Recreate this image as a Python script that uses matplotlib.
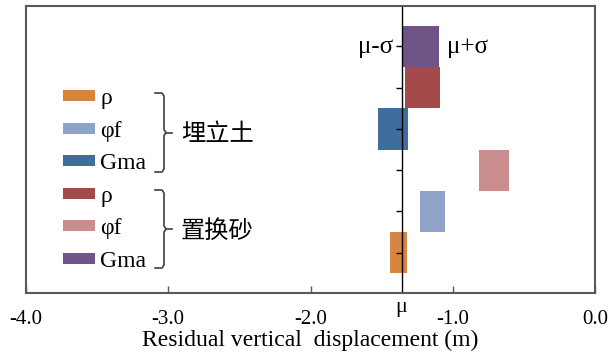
import matplotlib.pyplot as plt
from matplotlib.patches import Patch
from matplotlib.lines import Line2D

plt.rcParams['font.family'] = ['Liberation Serif', 'Noto Sans CJK SC']

# bars, bottom to top
names = ['ρ', 'φf', 'φf', 'Gma', 'ρ', 'Gma']
groups = ['埋立土', '埋立土', '置换砂', '埋立土', '置换砂', '置换砂']
lefts = [-1.440, -1.227, -0.816, -1.528, -1.337, -1.356]
rights = [-1.325, -1.052, -0.603, -1.318, -1.087, -1.099]
colors = ['#D5853F', '#8FA3C9', '#C98D8E', '#3F6E9E', '#A44A4A', '#6F5587']
mu = -1.36

xticks = [-4.0, -3.0, -2.0, -1.0, 0.0]

# legend order (top to bottom)
leg_names = ['ρ', 'φf', 'Gma', 'ρ', 'φf', 'Gma']
leg_colors = ['#D5853F', '#8FA3C9', '#3F6E9E', '#A44A4A', '#C98D8E', '#6F5587']
group_names = ['埋立土', '置换砂']

W, H = 614, 353
fig = plt.figure(figsize=(W / 100, H / 100), dpi=100)
L, R, T, B = 26, 595, 6, 293
ax = fig.add_axes([L / W, 1 - B / H, (R - L) / W, (B - T) / H])

ypos = list(range(len(lefts)))
widths = [r - l for l, r in zip(lefts, rights)]
ax.barh(ypos, widths, left=lefts, height=1.0, color=colors)

ax.set_xlim(-4.0, 0.0)
ax.set_ylim(-0.98, len(lefts) - 1 + 0.98)
ax.set_xticks(xticks)
ax.set_xticklabels([f'{v:.1f}' for v in xticks])
ax.tick_params(axis='x', direction='in', length=5, width=1, color='#595959',
               labelsize=15, pad=12)
ax.set_yticks([])
for s in ax.spines.values():
    s.set_color('#595959')
    s.set_linewidth(1.5)

# vertical axis at mu with ticks at bar centres
ax.axvline(mu, color='black', lw=1.0)
ax.plot([mu] * len(ypos), ypos, linestyle='none', marker=0, markersize=4,
        color='black', markeredgewidth=1.0)

ax.set_xlabel('Residual vertical  displacement (m)', fontsize=17, labelpad=1)

tr = ax.get_xaxis_transform()
ax.text(mu, -0.05, 'μ', transform=tr, ha='center', va='center', fontsize=16)
ax.text(mu - 0.06, 0.858, 'μ-σ', transform=tr, ha='right', va='center', fontsize=18)
ax.text(-1.04, 0.858, 'μ+σ', transform=tr, ha='left', va='center', fontsize=18)

# legend
handles = [Patch(facecolor=c, edgecolor='none') for c in leg_colors]
ax.legend(handles, leg_names, loc='center left',
          bbox_to_anchor=((63 - L) / (R - L), (B - 180) / (B - T)),
          frameon=False, fontsize=17, handlelength=1.36, handleheight=0.34,
          handletextpad=0.21, labelspacing=0.49, borderpad=0, borderaxespad=0)


def px(x, y):
    return (x - L) / (R - L), (B - y) / (B - T)


for g, (top, bot) in zip(group_names, [(93, 172), (190, 268)]):
    mid = (top + bot) / 2
    pts = [(155, top), (162, top), (164, top + 3), (164, mid - 3), (166, mid),
           (164, mid + 3), (164, bot - 3), (162, bot), (155, bot)]
    xs, ys = zip(*[px(x, y) for x, y in pts])
    ax.add_line(Line2D(xs, ys, transform=ax.transAxes, color='#404040', lw=1.2))
    xs, ys = zip(*[px(166, mid), px(172, mid)])
    ax.add_line(Line2D(xs, ys, transform=ax.transAxes, color='#404040', lw=1.2))
    tx, ty = px(181, mid + 2)
    ax.text(tx, ty, g, transform=ax.transAxes, ha='left', va='center',
            fontsize=17.5, family=['Noto Sans CJK SC'])

fig.savefig('out.png', dpi=100)
